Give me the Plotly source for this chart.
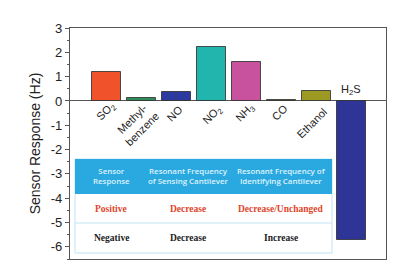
import plotly.graph_objects as go

# ---- data ----
gases = ["SO2", "Methyl-benzene", "NO", "NO2", "NH3", "CO", "Ethanol", "H2S"]
gas_labels = ["SO<sub>2</sub>", "Methyl-<br>benzene", "NO", "NO<sub>2</sub>", "NH<sub>3</sub>",
              "CO", "Ethanol", "H<sub>2</sub>S"]
responses = [1.2, 0.11, 0.38, 2.2, 1.6, 0.05, 0.42, -5.73]
bar_colors = ["#f0522c", "#2f8f5a", "#2b3a9c", "#22b5ae", "#c9529f", "#8c8a2c", "#9c9a22", "#2e3597"]

y_tickvals = [3, 2, 1, 0, -1, -2, -3, -4, -5, -6]
y_ticktext = ["3", "2", "1", "0", "-1", "-2", "-3", "-4", "-5", "-6"]

table_header = ["Sensor<br>Response", "Resonant Frequency<br>of Sensing Cantilever",
                "Resonant Frequency of<br>Identifying Cantilever"]
table_row1 = ["Positive", "Decrease", "Decrease/Unchanged"]
table_row2 = ["Negative", "Decrease", "Increase"]

# ---- layout geometry (pixels); page body has an 8px default margin ----
OFF = 8
W, H = 399 - OFF, 266 - OFF
ML, MR, MT, MB = 70 - OFF, 13, 28 - OFF, 7
PW, PH = W - ML - MR, H - MT - MB


def px_x(p):  # window pixel -> paper
    return (p - OFF - ML) / PW


def px_y(p):
    return (H + OFF - MB - p) / PH


fig = go.Figure()
fig.add_trace(go.Bar(
    x=list(range(len(gases))), y=responses, width=0.82,
    marker=dict(color=bar_colors, line=dict(color="rgba(50,50,50,0.85)", width=1)),
    hoverinfo="skip", showlegend=False,
))

# category labels
label_off = [(-0.02, -0.45), (-0.13, -0.95), (-0.04, -0.49), (0.04, -0.58), (-0.04, -0.49),
             (-0.04, -0.45), (-0.13, -0.9), (0.0, 0.45)]
annotations = []
for i, (lab, (dx, dy)) in enumerate(zip(gas_labels, label_off)):
    annotations.append(dict(
        x=i + dx, y=dy, xref="x", yref="y", text=lab, showarrow=False,
        textangle=0 if gases[i] == "H2S" else -45,
        font=dict(family="Liberation Sans, Arial", size=11, color="#222"),
        xanchor="center", yanchor="middle",
    ))

# table
tx0, tx1 = px_x(75), px_x(332)
ty_top, ty_hdr, ty_sep, ty_bot = px_y(159), px_y(194), px_y(223), px_y(253)
shapes = [
    dict(type="rect", xref="paper", yref="paper", x0=tx0, x1=tx1, y0=ty_bot, y1=ty_top,
         fillcolor="white", line=dict(color="#bfe3f4", width=1), layer="above"),
    dict(type="rect", xref="paper", yref="paper", x0=tx0, x1=tx1, y0=ty_hdr, y1=ty_top,
         fillcolor="#2aa9e0", line=dict(width=0), layer="above"),
    dict(type="line", xref="paper", yref="paper", x0=tx0, x1=tx1, y0=ty_sep, y1=ty_sep,
         line=dict(color="#bfe3f4", width=1), layer="above"),
]
col_x = [px_x(111), px_x(188), px_x(281)]
row_y = [px_y(176.5), px_y(208.5), px_y(238)]
for cx, h, r1, r2 in zip(col_x, table_header, table_row1, table_row2):
    annotations.append(dict(x=cx, y=row_y[0], xref="paper", yref="paper", text=h, showarrow=False,
                            font=dict(family="Open Sans, Noto Sans", size=7.9, color="#dff2fc",
                                      weight=600),
                            xanchor="center", yanchor="middle"))
    annotations.append(dict(x=cx, y=row_y[1], xref="paper", yref="paper", text="<b>%s</b>" % r1,
                            showarrow=False,
                            font=dict(family="Liberation Serif, Times New Roman", size=9.5, color="#e0452b"),
                            xanchor="center", yanchor="middle"))
    annotations.append(dict(x=cx, y=row_y[2], xref="paper", yref="paper", text="<b>%s</b>" % r2,
                            showarrow=False,
                            font=dict(family="Liberation Serif, Times New Roman", size=9.5, color="#222"),
                            xanchor="center", yanchor="middle"))

fig.update_layout(
    width=W, height=H, margin=dict(l=ML, r=MR, t=MT, b=MB, autoexpand=False),
    paper_bgcolor="white", plot_bgcolor="white",
    annotations=annotations, shapes=shapes, bargap=0,
    xaxis=dict(range=[-1.04, 7.99], showticklabels=False, ticks="", showgrid=False,
               zeroline=False, showline=True, linecolor="#555", linewidth=1.2, mirror=True),
    yaxis=dict(range=[-6.5, 3], tickvals=y_tickvals, ticktext=y_ticktext, ticks="outside",
               ticklen=4, tickcolor="#555", showgrid=False, automargin=False,
               minor=dict(dtick=0.5, ticks="outside", ticklen=2, tickcolor="#555"),
               zeroline=True, zerolinecolor="#555", zerolinewidth=1.2,
               showline=True, linecolor="#555", linewidth=1.2, mirror=True,
               tickfont=dict(family="Liberation Sans, Arial", size=13, color="#222"),
               title=dict(text="Sensor Response (Hz)", standoff=6,
                          font=dict(family="Liberation Sans, Arial", size=14, color="#222"))),
)

fig.write_html("out.html")
